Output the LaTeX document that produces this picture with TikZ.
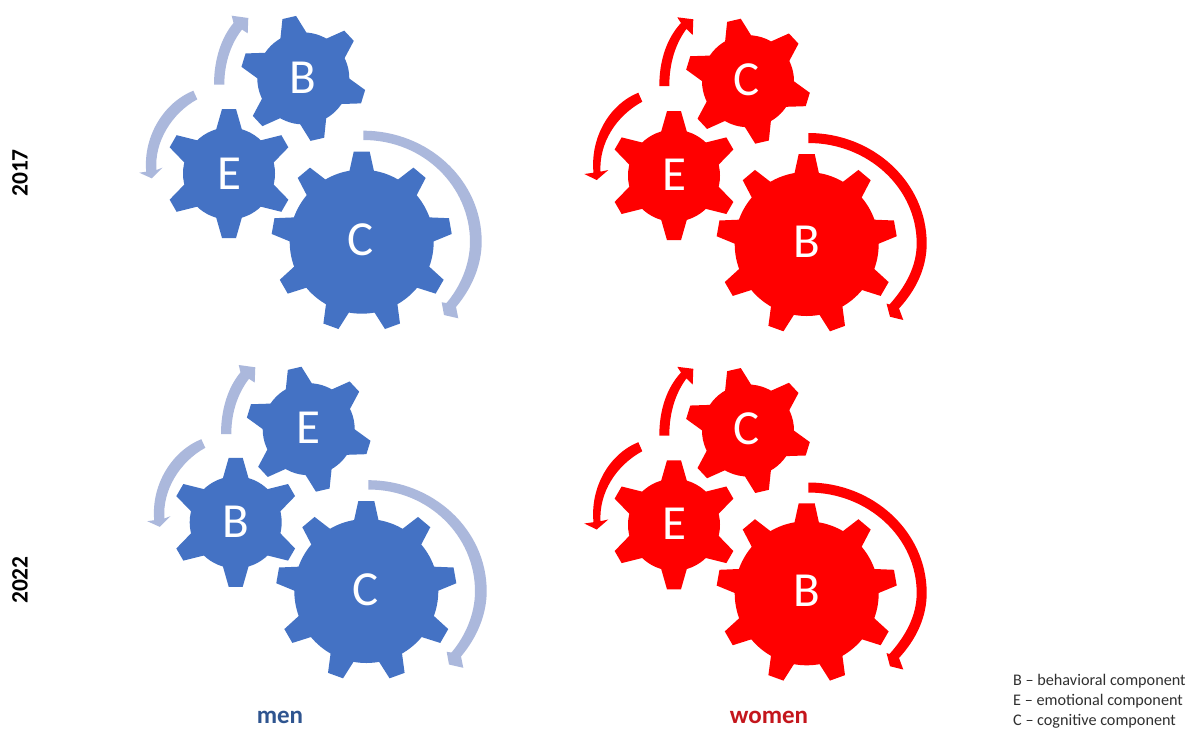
\documentclass[tikz,border=0pt]{standalone}
\usepackage{fontspec}
\setmainfont{Carlito}
\definecolor{gearblue}{HTML}{4472C4}
\definecolor{arrowblue}{HTML}{ABB8DC}
\definecolor{gearred}{HTML}{FF0000}
\definecolor{menlabel}{HTML}{2F5590}
\definecolor{womenlabel}{HTML}{C4161C}
\definecolor{legendtext}{HTML}{303030}
\tikzset{
  gearletter/.style={text=white,font=\fontsize{49}{49}\selectfont,inner sep=0pt,anchor=center},
  yearlabel/.style={font=\bfseries\fontsize{23.5}{23.5}\selectfont,text=black,rotate=90,inner sep=0pt,anchor=center},
  genderlabel/.style={font=\bfseries\fontsize{25}{25}\selectfont,inner sep=0pt,anchor=base},
  legendline/.style={font=\fontsize{16.2}{16.2}\selectfont,text=legendtext,inner sep=0pt,anchor=base west},
}
% gear: x, y, colour, offset angle, tooth step, body r, tip R, base half width, tip half width
\newcommand{\gearshape}[9]{%
  \begin{scope}[shift={(#1,#2)}]
    \fill[#3] (0,0) circle[radius=#6];
    \foreach \k in {0,#5,...,359}{
      \fill[#3,rotate=#4+\k] (#6-2.5,-#8) -- (#7,-#9) -- (#7,#9) -- (#6-2.5,#8) -- cycle;
    }
  \end{scope}}
\newcommand{\smallgear}[3]{\gearshape{#1}{#2}{#3}{30}{60}{46}{64.5}{13}{7}}
\newcommand{\tiltgear}[3]{\gearshape{#1}{#2}{#3}{43}{60}{46}{62.5}{13.5}{7}}
\newcommand{\biggear}[3]{\gearshape{#1}{#2}{#3}{90}{40}{72}{90}{12.5}{8}}
\newcommand{\menarrowbig}{%
  \fill[arrowblue] (363.3,130.7) .. controls (428,130.7) and (481.7,180) .. (481.7,241.7)
    .. controls (481.7,265) and (472,288) .. (456,307)
    -- (458.3,318.3) -- (444,315) -- (441.7,302.3) -- (446.5,303)
    .. controls (460,287) and (470,265) .. (470,241.7)
    .. controls (470,187) and (424,140) .. (363.3,140) -- cycle;}
\newcommand{\menarrowup}{%
  \fill[arrowblue] (214,84.7) .. controls (214,60) and (221,38) .. (233.5,23)
    -- (231.7,15.7) -- (248.3,18) -- (247.7,33.3) -- (242,29.5)
    .. controls (231.5,43) and (224.3,62) .. (224.3,84.7) -- cycle;}
\newcommand{\menarrowleft}{%
  \fill[arrowblue] (193.3,90.7) .. controls (165,102) and (143,135) .. (146.2,171.7)
    -- (139.3,172.7) -- (151.7,178.3) -- (162.3,167.7) -- (156.5,170)
    .. controls (154,142) and (172,113) .. (197.3,99.3) -- cycle;}
\newcommand{\womenarrows}{%
  \fill[gearred] (808.3,133) .. controls (873,133) and (926.7,182) .. (926.7,243.5)
    .. controls (926.7,268) and (916,290) .. (899,308.5)
    -- (903.3,320) -- (890,316.7) -- (886.5,303.5) -- (889.5,304.5)
    .. controls (906,286) and (916.7,266) .. (916.7,243.5)
    .. controls (916.7,188) and (868,143) .. (808.3,143) -- cycle;
  \fill[gearred] (659.3,86) .. controls (659.3,60) and (667,38) .. (681,23)
    -- (677.3,17.3) -- (693.3,19.3) -- (692.7,35) -- (686.5,28.8)
    .. controls (676,43) and (669.3,62) .. (669.3,86) -- cycle;
  \fill[gearred] (638.3,92.7) .. controls (610,104) and (590,137) .. (593.5,172.7)
    -- (584.3,174) -- (596.7,180) -- (608.3,170) -- (600.5,171.7)
    .. controls (599,143) and (616,116) .. (642.3,101.7) -- cycle;}
\begin{document}
\begin{tikzpicture}[x=1pt,y=-1pt]
  \useasboundingbox (0,0) rectangle (1189,729);
  \fill[white] (0,0) rectangle (1189,729);

  % men 2017
  \menarrowbig \menarrowup \menarrowleft
  \tiltgear{303.3}{78.4}{gearblue}
  \smallgear{229}{173.5}{gearblue}
  \biggear{361.7}{241.7}{gearblue}
  \node[gearletter] (mB17) at (303,78) {B};
  \node[gearletter] (mE17) at (229,174) {E};
  \node[gearletter] (mC17) at (361,240) {C};

  % men 2022
  \begin{scope}[yshift=-349.5pt,xshift=5pt]\menarrowbig\end{scope}
  \begin{scope}[yshift=-349.3pt,xshift=7pt]\menarrowup\end{scope}
  \begin{scope}[yshift=-348.5pt,xshift=8pt]\menarrowleft\end{scope}
  \tiltgear{308.7}{429.2}{gearblue}
  \smallgear{235.7}{522.3}{gearblue}
  \biggear{366.3}{591}{gearblue}
  \node[gearletter] (mE22) at (308,428) {E};
  \node[gearletter] (mB22) at (236,522) {B};
  \node[gearletter] (mC22) at (366,590) {C};

  % women 2017
  \womenarrows
  \tiltgear{748}{81.2}{gearred}
  \smallgear{674}{175.7}{gearred}
  \biggear{806.7}{244}{gearred}
  \node[gearletter] (wC17) at (747,80) {C};
  \node[gearletter] (wE17) at (674,175) {E};
  \node[gearletter] (wB17) at (807,242) {B};

  % women 2022
  \begin{scope}[yshift=-349.5pt]\womenarrows\end{scope}
  \tiltgear{748}{430.5}{gearred}
  \smallgear{674}{524.8}{gearred}
  \biggear{806.7}{593.3}{gearred}
  \node[gearletter] (wC22) at (747,429) {C};
  \node[gearletter] (wE22) at (674,524) {E};
  \node[gearletter] (wB22) at (807,591) {B};

  % labels
  \node[yearlabel] (y17) at (20,173) {2017};
  \node[yearlabel] (y22) at (20,580) {2022};
  \node[genderlabel,text=menlabel] (men) at (280,723) {men};
  \node[genderlabel,text=womenlabel] (women) at (769,723) {women};
  \node[legendline] (lB) at (1013,685) {B – behavioral component};
  \node[legendline] (lE) at (1013,705) {E – emotional component};
  \node[legendline] (lC) at (1013,725) {C – cognitive component};
\end{tikzpicture}
\end{document}
